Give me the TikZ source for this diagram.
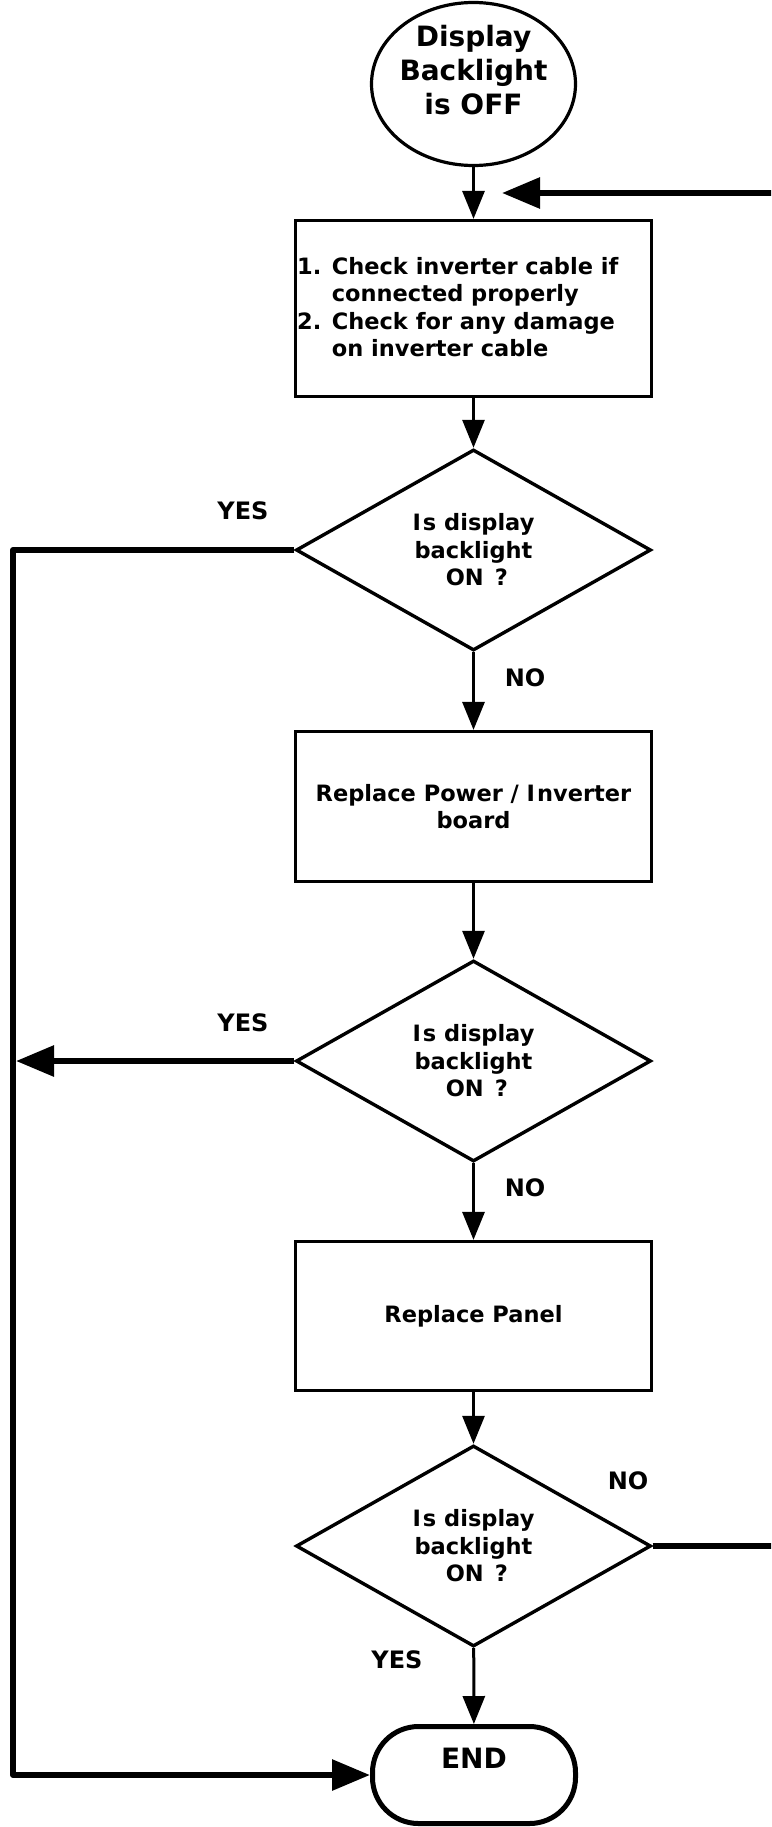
\documentclass[tikz,border=0pt]{standalone}
\usepackage{fontspec}
\setmainfont{DejaVu Sans}
\usetikzlibrary{arrows.meta,shapes.geometric}
\tikzset{
  txt/.style={font=\bfseries\fontsize{22.5}{27.5}\selectfont},
  bigtxt/.style={font=\bfseries\fontsize{28}{34}\selectfont},
  lbltxt/.style={font=\bfseries\fontsize{24}{28}\selectfont},
  procbox/.style={draw, line width=3.2pt, minimum width=356pt, inner sep=0pt, align=center, txt},
  decide/.style={draw, diamond, line width=3.4pt, minimum width=355pt, minimum height=201pt, inner sep=0pt, align=center, txt},
  flow/.style={line width=3pt, -{Triangle[length=28pt,width=22pt]}},
  loopline/.style={line width=6pt, line join=round},
  looparrow/.style={loopline, -{Triangle[length=38pt,width=30pt]}},
  lbl/.style={lbltxt, inner sep=0pt}
}
\begin{document}
\begin{tikzpicture}[x=1pt,y=-1pt]
\useasboundingbox (0,0) rectangle (771,1827);
\clip (0,0) rectangle (771,1827);
% shapes
\node[draw, ellipse, line width=3.2pt, minimum width=204pt, minimum height=163pt, inner sep=0pt,
      label={[bigtxt,align=center,yshift=14pt]center:Display\\Backlight\\is OFF}] (start) at (473.5,84) {};
\node[procbox, minimum height=176pt] (b1) at (473.5,308.5) {};
\node[txt, align=left, anchor=west, inner sep=0pt] (b1t) at (297,307)
  {1. Check inverter cable if\\\phantom{1. }connected properly\\2. Check for any damage\\\phantom{1. }on inverter cable};
\node[decide] (d1) at (473.5,550) {I\kern2pt s display\\backlight\\\hspace*{0.3em}ON\hspace*{0.5em}?};
\node[procbox, minimum height=150pt] (b2) at (473.5,806.5) {Replace Power / I\kern2pt nverter\\board};
\node[decide] (d2) at (473.5,1061) {I\kern2pt s display\\backlight\\\hspace*{0.3em}ON\hspace*{0.5em}?};
\node[procbox, minimum height=149pt] (b3) at (473.5,1316) {Replace Panel};
\node[decide] (d3) at (473.5,1546) {I\kern2pt s display\\backlight\\\hspace*{0.3em}ON\hspace*{0.5em}?};
\node[draw, line width=5pt, rounded corners=46pt, minimum width=203pt, minimum height=97pt, inner sep=0pt,
      label={[bigtxt,yshift=17pt]center:END}] (end) at (474,1775) {};
% labels
\node[lbl] (yes1) at (243,511) {YES};
\node[lbl] (no1) at (525,678) {NO};
\node[lbl] (yes2) at (243,1023) {YES};
\node[lbl] (no2) at (525,1188) {NO};
\node[lbl] (no3) at (628,1481) {NO};
\node[lbl] (yes3) at (397,1660) {YES};
% connectors
\draw[flow] (start) -- (b1);
\draw[flow] (b1) -- (d1);
\draw[flow] (d1) -- (b2);
\draw[flow] (b2) -- (d2);
\draw[flow] (d2) -- (b3);
\draw[flow] (b3) -- (d3);
\draw[flow] (d3) -- (end);
\coordinate (rail) at (13,550);
\coordinate (railhit) at (16,1061);
\coordinate (fbtip) at (502,193);
\coordinate (fbcorner) at (795,1546);
\draw[looparrow] (d1.west) -- (rail) |- (end.west);
\draw[looparrow] (d2.west) -- (railhit);
\draw[looparrow] (d3.east) -- (fbcorner) |- (fbtip);
\end{tikzpicture}
\end{document}
